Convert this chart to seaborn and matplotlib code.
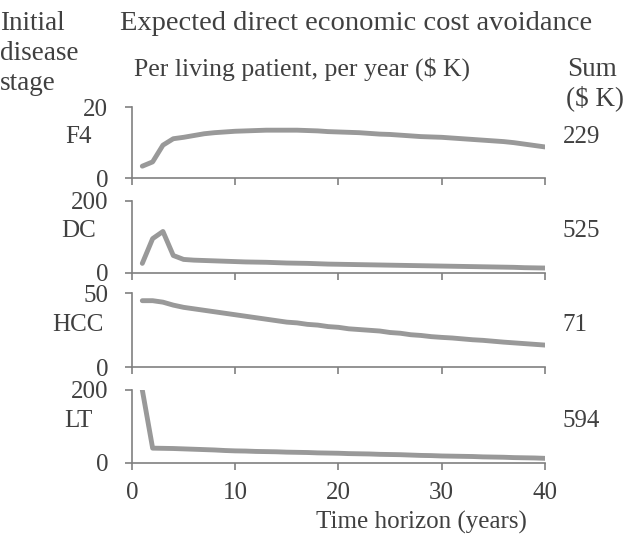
import matplotlib
matplotlib.use("Agg")
import matplotlib.pyplot as plt
import seaborn as sns
import pandas as pd

sns.set_style("ticks")
plt.rcParams["font.family"] = ["Liberation Serif", "DejaVu Serif"]

years = list(range(1, 41))

f4 = [3.4, 4.6, 9.3, 11.1, 11.5, 12.0, 12.5, 12.8, 13.0, 13.2,
      13.3, 13.4, 13.5, 13.5, 13.5, 13.5, 13.4, 13.3, 13.1, 13.0,
      12.9, 12.8, 12.6, 12.4, 12.3, 12.1, 11.9, 11.7, 11.6, 11.5,
      11.3, 11.1, 10.9, 10.7, 10.5, 10.3, 10.0, 9.6, 9.2, 8.8]
dc = [26, 95, 115, 48, 37, 35, 34, 33, 32, 31,
      30, 29.5, 29, 28, 27, 26.5, 26, 25, 24, 23.5,
      23, 22.5, 22, 21.5, 21, 20.5, 20, 19.5, 19, 18.5,
      18, 17.5, 17, 16.5, 16, 15.5, 15, 14, 13.5, 13]
hcc = [45, 45, 44, 42, 40.5, 39.5, 38.5, 37.5, 36.5, 35.5,
       34.5, 33.5, 32.5, 31.5, 30.5, 30, 29, 28.5, 27.5, 27,
       26, 25.5, 25, 24.5, 23.5, 23, 22, 21.5, 20.7, 20.2,
       19.8, 19.2, 18.6, 18.2, 17.6, 17, 16.5, 16, 15.5, 15]
lt = [200, 40, 39.5, 39, 38, 37, 36, 35, 33.5, 32.5,
      32, 31, 30.5, 30, 29, 28.5, 28, 27, 26.5, 26,
      25, 24.5, 24, 23, 22.5, 22, 21, 20, 19.5, 18.5,
      18, 17.5, 17, 16, 15.5, 15, 14, 13.5, 13, 12]

stages = ["F4", "DC", "HCC", "LT"]
y_max = [20, 200, 50, 200]
sums = [229, 525, 71, 594]
x_ticks = [0, 10, 20, 30, 40]

series = {"F4": f4, "DC": dc, "HCC": hcc, "LT": lt}

TEXT = "#404040"
SPINE = "#808080"
LINE = "#999999"
FS = 18      # tick labels, stage names, sums
FS_HEAD = 19.5

fig = plt.figure(figsize=(6.27, 5.58), dpi=100)

# panel boxes in figure fraction: (bottom, top)
boxes = [(0.6805, 0.8082), (0.5113, 0.6398), (0.3418, 0.4744), (0.1708, 0.3011)]
left, right = 0.2105, 0.869

for i, stage in enumerate(stages):
    b, t = boxes[i]
    ax = fig.add_axes([left, b, right - left, t - b])
    df = pd.DataFrame({"year": years, "value": series[stage]})
    sns.lineplot(data=df, x="year", y="value", ax=ax, color=LINE,
                 linewidth=3.5, solid_capstyle="round", solid_joinstyle="round")
    ax.set_xlim(0, 40)
    ax.set_ylim(0, y_max[i])
    ax.set_yticks([0, y_max[i]])
    ax.set_xticks(x_ticks)
    ax.set_xlabel("")
    ax.set_ylabel("")
    for s in ["top", "right"]:
        ax.spines[s].set_visible(False)
    for s in ["left", "bottom"]:
        ax.spines[s].set_color(SPINE)
        ax.spines[s].set_linewidth(1.2)
    ax.tick_params(axis="both", colors=SPINE, labelcolor=TEXT, labelsize=FS,
                   width=1.2, length=5)
    ax.tick_params(axis="y", pad=12)
    ax.tick_params(axis="x", pad=9)
    if i < 3:
        ax.tick_params(axis="x", labelbottom=False)
    ax.patch.set_alpha(0)
    # stage name on the left, sum on the right
    fig.text(0.125, (b + t) / 2 + 0.01, stage, ha="center", va="center",
             fontsize=FS, color=TEXT)
    fig.text(0.897, (b + t) / 2 + 0.01, str(sums[i]), ha="left", va="center",
             fontsize=FS, color=TEXT)

fig.text(0.0, 0.947, "Initial", ha="left", va="baseline", fontsize=FS_HEAD, color=TEXT)
fig.text(0.0, 0.893, "disease", ha="left", va="baseline", fontsize=FS_HEAD, color=TEXT)
fig.text(0.0, 0.839, "stage", ha="left", va="baseline", fontsize=FS_HEAD, color=TEXT)
fig.text(0.191, 0.947, "Expected direct economic cost avoidance", ha="left",
         va="baseline", fontsize=20.5, color=TEXT)
fig.text(0.213, 0.864, "Per living patient, per year ($ K)", ha="left",
         va="baseline", fontsize=18.5, color=TEXT)
fig.text(0.905, 0.864, "Sum", ha="left", va="baseline", fontsize=FS_HEAD, color=TEXT)
fig.text(0.902, 0.812, "($ K)", ha="left", va="baseline", fontsize=FS_HEAD, color=TEXT)
fig.text(0.84, 0.052, "Time horizon (years)", ha="right", va="baseline",
         fontsize=FS, color=TEXT)

fig.savefig("out.png", dpi=100)
